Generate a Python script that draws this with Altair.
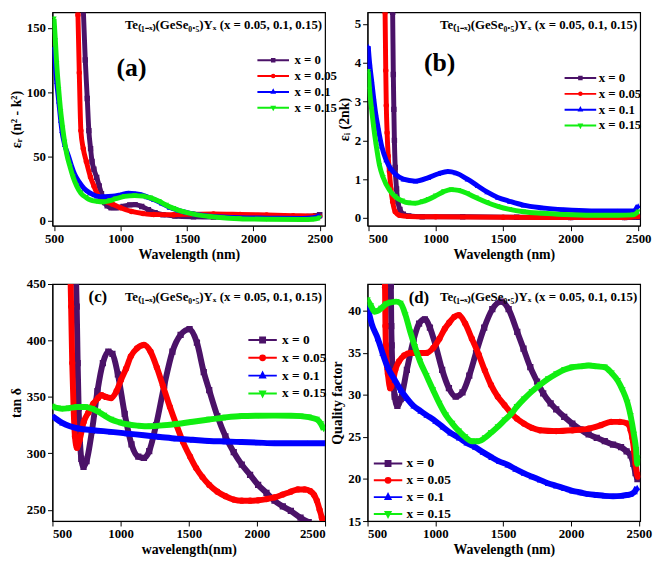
import altair as alt
import pandas as pd

FONT = "Liberation Serif"
SERIES = ["x = 0", "x = 0.05", "x = 0.1", "x = 0.15"]
COLORS = ["#4B1268", "#FF0000", "#0000FF", "#11EE11"]
MARKERS = ["square", "circle", "triangle-up", "triangle-down"]
FORMULA = "Te₍₁₋ₓ₎(GeSe₀.₅)Yₓ (x = 0.05, 0.1, 0.15)"
X_TICKS = [500, 1000, 1500, 2000, 2500]

# ---------------- panel (a): eps_r ----------------
A_WL_0 = [700, 720, 735, 750, 762, 775, 786, 800, 821, 840, 857, 870, 881, 900, 930, 970, 1020, 1070, 1110, 1160, 1210, 1260, 1320, 1410, 1550, 1700, 1900, 2100, 2300, 2420, 2470, 2500]
A_Y_0 = [230, 165, 125, 95, 70, 56, 46, 40, 33.6, 27, 21, 17, 14, 11.5, 10, 10, 11, 12.2, 12.4, 11, 8.5, 6.2, 4.6, 3.6, 3.0, 2.8, 2.8, 2.8, 2.9, 3.2, 3.8, 4.6]
A_WL_1 = [670, 680, 690, 702, 720, 743, 774, 800, 821, 860, 900, 940, 1000, 1083, 1170, 1250, 1400, 1550, 1700, 1900, 2100, 2300, 2450, 2500]
A_Y_1 = [210, 160, 115, 70, 56, 46, 34, 27, 21.5, 17, 14.5, 12.8, 10, 7.1, 5.5, 4.7, 4.6, 5.0, 5.2, 4.8, 4.3, 3.8, 3.5, 3.3]
A_WL_2 = [500, 510, 520, 535, 550, 559, 580, 607, 630, 655, 690, 726, 770, 821, 880, 940, 1000, 1060, 1110, 1155, 1200, 1250, 1310, 1369, 1430, 1488, 1560, 1655, 1770, 1893, 2100, 2369, 2450, 2500]
A_Y_2 = [135, 120, 108, 93, 78, 70, 59, 50.7, 43, 36, 30, 25, 21.5, 19, 18.5, 18.9, 20, 21.3, 21, 20.1, 18.5, 16.5, 13.5, 10.3, 8.2, 6.6, 5, 3.7, 2.8, 2.2, 1.9, 1.7, 2.2, 3.7]
A_WL_3 = [500, 510, 520, 535, 550, 565, 580, 595, 620, 643, 670, 702, 740, 774, 820, 869, 920, 964, 1030, 1107, 1170, 1226, 1290, 1345, 1400, 1464, 1550, 1655, 1770, 1893, 2100, 2369, 2450, 2500]
A_Y_3 = [157, 140, 122, 102, 85, 72, 61, 52, 42, 34, 27, 21.3, 18, 16, 15, 14.5, 15.5, 17, 18.8, 19.4, 19, 17.6, 15, 12, 9.5, 7.1, 5, 3.4, 2.2, 1.5, 1.0, 0.8, 1.1, 2.2]

# ---------------- panel (b): eps_i ----------------
B_WL_0 = [675, 681, 686, 690, 694, 700, 710, 720, 735, 760, 800, 900, 1200, 1600, 2000, 2400, 2500]
B_Y_0 = [6.5, 5.3, 3.7, 2.8, 2.0, 1.3, 0.75, 0.42, 0.22, 0.1, 0.05, 0.03, 0.03, 0.02, 0.01, 0.01, 0.02]
B_WL_1 = [620, 625, 630, 634, 640, 648, 657, 668, 681, 700, 730, 800, 1000, 1500, 2000, 2400, 2500]
B_Y_1 = [6.5, 5.3, 3.8, 2.9, 2.2, 1.6, 1.2, 0.75, 0.42, 0.16, 0.07, 0.04, 0.03, 0.02, 0.01, 0.01, 0.04]
B_WL_2 = [500, 510, 525, 540, 555, 572, 600, 632, 665, 705, 760, 849, 946, 1020, 1090, 1150, 1235, 1310, 1380, 1460, 1548, 1650, 1789, 1950, 2150, 2350, 2464, 2500]
B_Y_2 = [4.43, 4.0, 3.55, 3.1, 2.7, 2.35, 1.85, 1.5, 1.28, 1.12, 1.0, 0.95, 1.04, 1.14, 1.2, 1.16, 1.0, 0.83, 0.67, 0.53, 0.43, 0.33, 0.26, 0.21, 0.18, 0.18, 0.18, 0.32]
B_WL_3 = [500, 510, 525, 540, 560, 584, 610, 657, 700, 753, 800, 849, 900, 946, 1000, 1060, 1115, 1170, 1235, 1300, 1380, 1460, 1548, 1650, 1789, 1950, 2150, 2350, 2464, 2500]
B_Y_3 = [3.78, 3.3, 2.8, 2.35, 1.85, 1.35, 1.05, 0.72, 0.55, 0.44, 0.39, 0.38, 0.42, 0.48, 0.57, 0.68, 0.73, 0.71, 0.63, 0.52, 0.4, 0.3, 0.22, 0.16, 0.12, 0.09, 0.07, 0.07, 0.08, 0.16]

# ---------------- panel (c): tan delta ----------------
C_WL_0 = [670, 678, 685, 692, 700, 712, 728, 750, 790, 830, 870, 910, 940, 980, 1030, 1080, 1130, 1171, 1210, 1260, 1320, 1380, 1440, 1506, 1560, 1610, 1650, 1710, 1769, 1830, 1889, 1950, 2009, 2070, 2129, 2190, 2249, 2320, 2380]
C_Y_0 = [470, 430, 380, 340, 315, 295, 288, 293, 320, 355, 380, 390, 388, 370, 335, 308, 297, 296, 302, 325, 360, 390, 405, 410, 398, 372, 356, 333, 315, 301, 290, 281, 272, 265, 258, 253, 249, 243, 239]
C_WL_1 = [630, 637, 645, 655, 665, 680, 700, 730, 763, 800, 835, 860, 890, 931, 970, 1003, 1040, 1075, 1120, 1171, 1220, 1266, 1310, 1362, 1410, 1458, 1510, 1554, 1600, 1650, 1710, 1769, 1830, 1889, 1950, 2009, 2070, 2129, 2190, 2249, 2300, 2350, 2392, 2420, 2440, 2460, 2476, 2490]
C_Y_1 = [470, 430, 380, 340, 315, 305, 312, 328, 336, 344, 349, 351.5, 350, 349, 355, 365, 375, 386, 393, 396, 390, 376, 360, 341, 325, 310, 297, 287, 279, 272, 266, 262, 259, 258, 258, 258.4, 259.5, 261, 263.5, 266, 268, 268, 266.5, 263, 258, 250, 243, 236]
C_WL_2 = [500, 572, 692, 800, 931, 1050, 1171, 1290, 1410, 1530, 1650, 1770, 1889, 2009, 2129, 2250, 2370, 2500]
C_Y_2 = [333, 327, 322, 320.5, 319, 317.5, 316, 314.5, 313, 312, 311, 310.5, 310, 309.5, 309, 309, 309, 309]
C_WL_3 = [500, 540, 572, 620, 680, 740, 790, 835, 880, 931, 990, 1051, 1130, 1219, 1310, 1410, 1530, 1650, 1770, 1889, 2009, 2129, 2250, 2320, 2380, 2440, 2470, 2490]
C_Y_3 = [341.5, 340, 339.5, 340, 341, 341, 339.5, 337, 333.5, 330, 327.5, 325.6, 324.5, 324, 324.8, 326, 328, 330, 331.8, 333, 333.3, 333.4, 333.3, 333, 332, 330, 326, 321]

# ---------------- panel (d): quality factor ----------------
D_WL_0 = [668, 672, 675, 678, 682, 688, 700, 720, 745, 790, 840, 880, 923, 960, 1000, 1050, 1100, 1150, 1200, 1250, 1300, 1360, 1420, 1484, 1540, 1604, 1650, 1700, 1750, 1795, 1850, 1891, 1950, 2010, 2070, 2130, 2190, 2249, 2310, 2369, 2410, 2440, 2460, 2476, 2490]
D_Y_0 = [46, 43, 38.2, 35.9, 33.6, 32, 29.8, 28.7, 29.5, 33, 36.6, 38.5, 39, 38, 36, 33, 30.8, 29.8, 30.3, 32.3, 35, 38, 40.2, 41.1, 40.2, 37.5, 35.5, 33.3, 31.6, 30.2, 29, 28.3, 27.4, 26.6, 25.9, 25.3, 24.9, 24.5, 24.1, 23.8, 23.3, 22.8, 21.8, 20.7, 20]
D_WL_1 = [625, 629, 632, 635, 640, 650, 667, 685, 705, 732, 770, 815, 870, 935, 985, 1030, 1070, 1102, 1140, 1174, 1220, 1269, 1320, 1365, 1410, 1460, 1510, 1556, 1600, 1652, 1710, 1771, 1891, 2010, 2130, 2220, 2297, 2360, 2416, 2440, 2452, 2466, 2476, 2493, 2500]
D_Y_1 = [46, 42.8, 38.2, 35.9, 34, 32.5, 30.8, 31.5, 33, 34, 34.7, 35, 35, 35, 35.6, 36.7, 37.9, 38.6, 39.3, 39.5, 38.5, 36.7, 34.8, 32.9, 31.2, 29.8, 28.8, 27.9, 27.2, 26.6, 26.1, 25.8, 25.7, 25.8, 26, 26.4, 26.8, 26.8, 26.6, 25.8, 24.9, 23.3, 21.8, 20.3, 20.5]
D_WL_2 = [500, 530, 576, 610, 648, 700, 744, 790, 839, 890, 935, 1000, 1054, 1110, 1174, 1230, 1293, 1350, 1413, 1470, 1532, 1590, 1652, 1710, 1771, 1830, 1891, 1950, 2010, 2070, 2130, 2190, 2249, 2310, 2369, 2410, 2440, 2470, 2488]
D_Y_2 = [40.5, 38.5, 36.7, 35, 33.3, 31.8, 30.6, 29.6, 28.7, 28.1, 27.6, 26.9, 26.2, 25.5, 24.9, 24.3, 23.8, 23.2, 22.6, 22.1, 21.7, 21.2, 20.7, 20.3, 19.9, 19.5, 19.2, 18.9, 18.6, 18.4, 18.2, 18.1, 18.0, 17.95, 18.0, 18.1, 18.2, 18.5, 19]
D_WL_3 = [500, 525, 553, 575, 600, 635, 672, 710, 744, 780, 815, 850, 887, 935, 983, 1030, 1078, 1125, 1174, 1220, 1269, 1320, 1365, 1410, 1460, 1510, 1556, 1600, 1652, 1710, 1771, 1830, 1891, 1950, 2010, 2070, 2130, 2190, 2249, 2300, 2345, 2380, 2416, 2440, 2464, 2480, 2488, 2495]
D_Y_3 = [41.3, 40.6, 39.9, 40, 40.3, 40.8, 41, 41.1, 40.9, 39.5, 37.5, 35.7, 34, 32.3, 30.6, 29, 27.6, 26.6, 25.7, 25, 24.5, 24.5, 24.9, 25.5, 26.2, 27, 27.7, 28.6, 29.5, 30.4, 31.2, 31.9, 32.5, 33, 33.3, 33.4, 33.5, 33.4, 33.3, 32.6, 31.7, 30.6, 29.1, 27.5, 25.3, 23.5, 21.8, 22.5]


def legend_paths(line, m):
    h = m * 0.75
    return [
        f"M-{line},0H{line}M-{m},-{m}H{m}V{m}H-{m}Z",
        f"M-{line},0H{line}M{m},0A{m},{m},0,1,1,-{m},0A{m},{m},0,1,1,{m},0Z",
        f"M-{line},0H{line}M0,-{m * 1.2}L{m},{h}H-{m}Z",
        f"M-{line},0H{line}M0,{m * 1.2}L{m},-{h}H-{m}Z",
    ]


def long_df(wls, vals):
    rows = []
    for s, w, v in zip(SERIES, wls, vals):
        rows += [{"series": s, "wl": a, "val": b} for a, b in zip(w, v)]
    return pd.DataFrame(rows)


def panel(df, c):
    xs = alt.Scale(domain=c["xdom"], nice=False, zero=False)
    ys = alt.Scale(domain=c["ydom"], nice=False, zero=False)
    xax = alt.Axis(values=X_TICKS, title=c["xtitle"], format="d", titlePadding=2)
    yax = alt.Axis(values=c["yticks"], title=c["ytitle"], format="d", titlePadding=3)
    layers = []
    for i, s in enumerate(SERIES):
        sub = alt.Chart(df).transform_filter(alt.datum.series == s)
        enc = dict(x=alt.X("wl:Q", scale=xs, axis=xax), y=alt.Y("val:Q", scale=ys, axis=yax))
        layers.append(sub.mark_line(color=COLORS[i], strokeWidth=c["lw"], clip=True,
                                    interpolate="monotone").encode(**enc))
        layers.append(sub.mark_point(shape=MARKERS[i], filled=True, color=COLORS[i], size=c["ms"],
                                     opacity=1, clip=True).encode(**enc))
    leg = alt.Legend(orient="none", legendX=c["legx"], legendY=c["legy"], title=None,
                     labelFont=FONT, labelFontSize=c["lfs"], labelFontWeight="bold", labelColor="black",
                     labelOffset=c["loff"], symbolSize=64, symbolStrokeWidth=2, symbolOpacity=1,
                     rowPadding=c["rowpad"], padding=0)
    dummy = alt.Chart(pd.DataFrame({"series": SERIES})).mark_point(filled=False, opacity=0).encode(
        color=alt.Color("series:N", scale=alt.Scale(domain=SERIES, range=COLORS), legend=leg),
        fill=alt.Fill("series:N", scale=alt.Scale(domain=SERIES, range=COLORS), legend=leg),
        shape=alt.Shape("series:N", scale=alt.Scale(domain=SERIES, range=c["paths"]), legend=leg),
    )
    one = pd.DataFrame({"t": [FORMULA], "p": [c["label"]]})
    formula = alt.Chart(one).mark_text(font=FONT, fontSize=13, fontWeight="bold", align="right",
                                       baseline="middle", color="black").encode(
        text="t:N", x=alt.value(c["w"] - 3), y=alt.value(c["fy"]))
    label = alt.Chart(one).mark_text(font=FONT, fontSize=c["pfs"], fontWeight="bold", align="center",
                                     baseline="middle", color="black").encode(
        text="p:N", x=alt.value(c["px"]), y=alt.value(c["py"]))
    return alt.layer(*layers, dummy, formula, label).properties(width=c["w"], height=c["h"])


W = 276
small = legend_paths(4, 0.32)
big = legend_paths(3.6, 0.62)

pa = panel(long_df([A_WL_0, A_WL_1, A_WL_2, A_WL_3], [A_Y_0, A_Y_1, A_Y_2, A_Y_3]), dict(
    xdom=[488, 2540], ydom=[-4, 162], yticks=[0, 50, 100, 150], ytitle="εᵣ (n² - k²)",
    xtitle="Wavelength (nm)", lw=5, ms=30, w=W, h=216, legx=217, legy=42, lfs=13, loff=15,
    rowpad=2, paths=small, fy=13, label="(a)", pfs=26, px=80, py=56))
pb = panel(long_df([B_WL_0, B_WL_1, B_WL_2, B_WL_3], [B_Y_0, B_Y_1, B_Y_2, B_Y_3]), dict(
    xdom=[495, 2515], ydom=[-0.2, 5.3], yticks=[0, 1, 2, 3, 4, 5], ytitle="εᵢ (2nk)",
    xtitle="Wavelength (nm)", lw=5, ms=30, w=W, h=216, legx=209, legy=60, lfs=13, loff=12,
    rowpad=2, paths=small, fy=13, label="(b)", pfs=26, px=73, py=51))
pc = panel(long_df([C_WL_0, C_WL_1, C_WL_2, C_WL_3], [C_Y_0, C_Y_1, C_Y_2, C_Y_3]), dict(
    xdom=[500, 2500], ydom=[240, 450], yticks=[250, 300, 350, 400, 450], ytitle="tan δ",
    xtitle="wavelength(nm)", lw=6, ms=40, w=W, h=240, legx=206, legy=50, lfs=13.5, loff=13,
    rowpad=3, paths=big, fy=13, label="(c)", pfs=17, px=46, py=13))
pd_ = panel(long_df([D_WL_0, D_WL_1, D_WL_2, D_WL_3], [D_Y_0, D_Y_1, D_Y_2, D_Y_3]), dict(
    xdom=[500, 2510], ydom=[15, 43.2], yticks=[15, 20, 25, 30, 35, 40], ytitle="Quality factor",
    xtitle="Wavelength (nm)", lw=6, ms=40, w=W, h=240, legx=14, legy=175, lfs=13.5, loff=12,
    rowpad=2, paths=big, fy=13, label="(d)", pfs=17, px=52, py=14))

chart = alt.concat(pa, pb, pc, pd_, columns=2, spacing={"row": 59, "column": 43},
                   bounds="flush", align="each").resolve_scale(
    color="independent", fill="independent", shape="independent"
).resolve_legend(color="independent", fill="independent", shape="independent").properties(
    padding=0
).configure_axis(
    labelFont=FONT, labelFontSize=13, labelFontWeight="bold", labelColor="black",
    titleFont=FONT, titleFontSize=14, titleFontWeight="bold", titleColor="black",
    domainColor="black", tickColor="black", tickSize=5, grid=False, labelPadding=2
).configure_view(stroke="black", strokeWidth=1.2)

chart.save("out.html", embed_options={"renderer": "svg", "actions": False})
